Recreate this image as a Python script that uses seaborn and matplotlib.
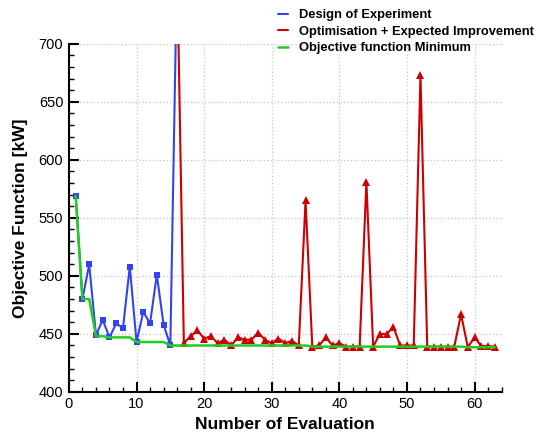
import seaborn as sns
import matplotlib.pyplot as plt
import pandas as pd
from matplotlib.ticker import MultipleLocator

# Design of Experiment points
doe_x = list(range(1, 17))
doe_y = [569, 480, 510, 449, 462, 447, 459, 455, 508, 443, 469, 459, 501, 458, 440, 770]

# Optimisation + Expected Improvement points
opt_x = list(range(16, 64))
opt_y = [770, 442, 448, 453, 446, 448, 442, 445, 440, 447, 445, 445, 451, 445, 442, 446,
         442, 444, 440, 565, 439, 440, 447, 440, 442, 439, 439, 439, 581, 439, 450, 450,
         456, 440, 440, 440, 673, 439, 439, 439, 439, 439, 467, 438.5, 447, 439.5, 439.5, 439]

# running minimum of the objective
min_x = list(range(1, 64))
min_y = [569, 480, 480, 448, 448, 447, 447, 447, 447, 443, 443, 443, 443, 443, 440,
         440, 440, 440, 440, 440, 440, 440, 440, 440, 440, 440, 440, 440, 440, 440,
         440, 440, 440, 440, 440, 439, 439, 439, 439, 439, 439, 439, 439, 439, 439,
         439, 439, 439, 439, 439, 439, 439, 439, 439, 439, 439, 439, 439, 438.5, 438.5,
         438.5, 438.5, 438.5]

doe = pd.DataFrame({"Evaluation": doe_x, "Objective": doe_y})
opt = pd.DataFrame({"Evaluation": opt_x, "Objective": opt_y})
mn = pd.DataFrame({"Evaluation": min_x, "Objective": min_y})

sns.set_style("ticks")
plt.rcParams['font.family'] = ['Liberation Sans', 'DejaVu Sans']
plt.rcParams.update({'text.color': 'black', 'axes.labelcolor': 'black',
                     'xtick.color': 'black', 'ytick.color': 'black'})

fig = plt.figure(figsize=(5.47, 4.34), dpi=100)
ax = fig.add_axes([0.126, 0.097, 0.791, 0.802])

sns.lineplot(data=doe, x="Evaluation", y="Objective", color="#3344ee", marker="s",
             markersize=5, markeredgewidth=0, linewidth=1.5, label="Design of Experiment", ax=ax)
sns.lineplot(data=opt, x="Evaluation", y="Objective", color="#cc0000", marker="^",
             markersize=6, markeredgewidth=0, linewidth=1.5,
             label="Optimisation + Expected Improvement", ax=ax)
sns.lineplot(data=mn, x="Evaluation", y="Objective", color="#22cc22",
             linewidth=1.8, label="Objective function Minimum", ax=ax)

ax.set_xlim(0, 64)
ax.set_ylim(400, 700)
ax.xaxis.set_major_locator(MultipleLocator(10))
ax.xaxis.set_minor_locator(MultipleLocator(2))
ax.yaxis.set_major_locator(MultipleLocator(50))
ax.yaxis.set_minor_locator(MultipleLocator(10))
ax.tick_params(which='major', direction='in', length=7, width=1.5, labelsize=10.5,
               color='black', labelcolor='black', pad=4)
ax.tick_params(which='minor', direction='in', length=3.5, width=1, color='black')
ax.grid(True, which='major', linestyle=(0, (1, 1.5)), color='#cccccc', linewidth=1)
for s in ['top', 'right']:
    ax.spines[s].set_visible(False)
for s in ['left', 'bottom']:
    ax.spines[s].set_linewidth(1.5)
    ax.spines[s].set_color('black')

ax.set_xlabel("Number of Evaluation", fontsize=12.5, fontweight='bold', labelpad=4)
ax.set_ylabel("Objective Function [kW]", fontsize=12.5, fontweight='bold', labelpad=8)

leg = ax.legend(loc='upper left', bbox_to_anchor=(0.483, 1.10), frameon=False,
                handlelength=0.8, handletextpad=0.8, labelspacing=0.36,
                borderpad=0, borderaxespad=0, prop={'weight': 'bold', 'size': 9.3})
for h in leg.legend_handles:
    h.set_marker('')

fig.savefig("out.png", dpi=100)
